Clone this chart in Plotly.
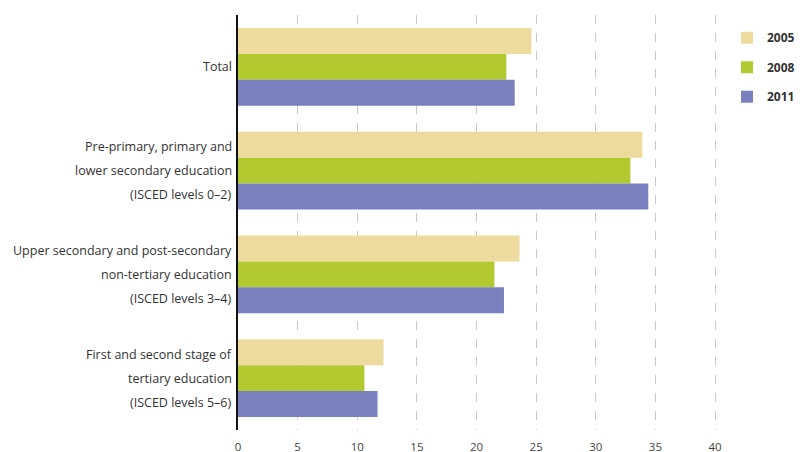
import plotly.graph_objects as go

categories = ["Total",
              "Pre-primary, primary and|lower secondary education|(ISCED levels 0–2)",
              "Upper secondary and post-secondary|non-tertiary education|(ISCED levels 3–4)",
              "First and second stage of|tertiary education|(ISCED levels 5–6)"]
years = ["2005", "2008", "2011"]
v2005 = [24.6, 33.9, 23.6, 12.2]
v2008 = [22.5, 32.9, 21.5, 10.6]
v2011 = [23.2, 34.4, 22.3, 11.7]
colors = ["#EEDC9F", "#B3C930", "#7A80BE"]
xticks = [0, 5, 10, 15, 20, 25, 30, 35, 40]

fig = go.Figure()
for yr, vals, col in zip(years, [v2005, v2008, v2011], colors):
    fig.add_trace(go.Bar(y=categories, x=vals, orientation="h", name=yr,
                         marker=dict(color=col, line=dict(width=0)),
                         legendgroup=yr))

# multi-line category labels with wide line spacing
for cat in categories:
    lines = cat.split("|")
    n = len(lines)
    for i, ln in enumerate(lines):
        fig.add_annotation(xref="paper", x=0, xanchor="right", xshift=-4,
                           yref="y", y=cat, yshift=(-(i - (n - 1) / 2) * 24),
                           text=ln, showarrow=False,
                           font=dict(family="Open Sans", size=12.5, color="#333"))

fig.update_layout(
    width=803, height=452,
    margin=dict(l=238, r=76, t=15, b=22, autoexpand=False),
    paper_bgcolor="white", plot_bgcolor="white",
    barmode="group", bargap=0.25, bargroupgap=0,
    showlegend=True,
    legend=dict(x=1.0, y=0.98, xanchor="left", yanchor="top",
                font=dict(family="Open Sans", size=12, color="#333", weight="bold"),
                tracegroupgap=10.5, traceorder="grouped", itemwidth=30),
    xaxis=dict(range=[0, 41], tickvals=xticks, showgrid=True,
               gridcolor="#c8c8c8", griddash="dash", gridwidth=1,
               zeroline=False, showline=False, ticks="",
               ticklabelstandoff=8,
               tickfont=dict(family="Open Sans", size=11.5, color="#444")),
    yaxis=dict(autorange="reversed", showticklabels=False, ticks="",
               showline=True, linecolor="#111", linewidth=2,
               showgrid=False, zeroline=False),
)
fig.write_html("out.html")
